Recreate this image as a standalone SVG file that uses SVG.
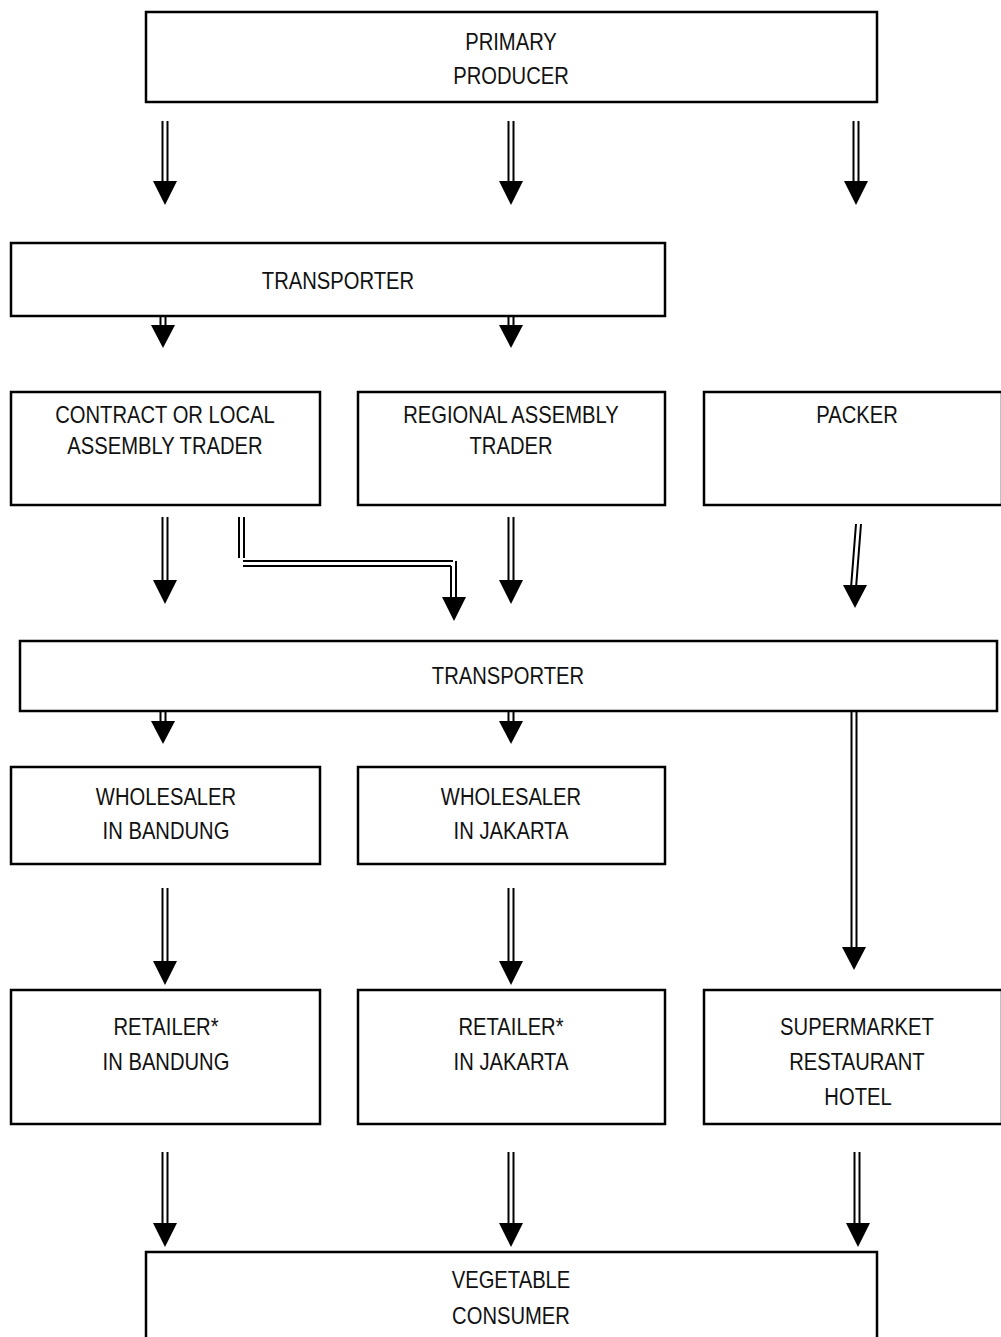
<svg xmlns="http://www.w3.org/2000/svg" width="1001" height="1337" viewBox="0 0 1001 1337">
<style>
.box{fill:#fff;stroke:#000;stroke-width:2.5}
.t{font-family:"Liberation Sans Narrow","Liberation Sans",Arial,sans-serif;font-size:23.5px;fill:#111;text-anchor:middle}
.sh{fill:none;stroke:#000;stroke-width:2}
.hd{fill:#000}
</style>
<rect width="1001" height="1337" fill="#fff"/>
<g id="connectors">
<g><path class="sh" d="M162.5 121V182M167.5 121V182"/><polygon class="hd" points="153,181 177,181 165,205"/></g>
<g><path class="sh" d="M508.5 121V182M513.5 121V182"/><polygon class="hd" points="499,181 523,181 511,205"/></g>
<g><path class="sh" d="M853.5 121V182M858.5 121V182"/><polygon class="hd" points="844,181 868,181 856,205"/></g>
<g><path class="sh" d="M160.5 311V327M165.5 311V327"/><polygon class="hd" points="151,325 175,325 163,348"/></g>
<g><path class="sh" d="M508.5 311V327M513.5 311V327"/><polygon class="hd" points="499,325 523,325 511,348"/></g>
<g><path class="sh" d="M162.5 517V582M167.5 517V582"/><polygon class="hd" points="153,580 177,580 165,604"/></g>
<g><path class="sh" d="M508.5 517V582M513.5 517V582"/><polygon class="hd" points="499,580 523,580 511,604"/></g>
<g><path class="sh" d="M239 517V558M244 517V558"/><path class="sh" d="M243 561H453M243 566H451M451 566V598M456 561V598"/><polygon class="hd" points="442,597 466,597 454,621"/></g>
<g><path class="sh" d="M856 524L851 588M861 524L856 588"/><polygon class="hd" points="843,585 867,585 855,608"/></g>
<g><path class="sh" d="M160.5 708V724M165.5 708V724"/><polygon class="hd" points="151,721 175,721 163,744"/></g>
<g><path class="sh" d="M508.5 708V724M513.5 708V724"/><polygon class="hd" points="499,721 523,721 511,744"/></g>
<g><path class="sh" d="M851.5 706V949M856.5 706V949"/><polygon class="hd" points="842,947 866,947 854,970"/></g>
<g><path class="sh" d="M162.5 888V963M167.5 888V963"/><polygon class="hd" points="153,961 177,961 165,985"/></g>
<g><path class="sh" d="M508.5 888V963M513.5 888V963"/><polygon class="hd" points="499,961 523,961 511,985"/></g>
<g><path class="sh" d="M162.5 1152V1225M167.5 1152V1225"/><polygon class="hd" points="153,1223 177,1223 165,1247"/></g>
<g><path class="sh" d="M508.5 1152V1225M513.5 1152V1225"/><polygon class="hd" points="499,1223 523,1223 511,1247"/></g>
<g><path class="sh" d="M854.5 1152V1225M859.5 1152V1225"/><polygon class="hd" points="846,1223 870,1223 858,1247"/></g>
</g>
<g id="primary-producer"><rect class="box" x="146" y="12" width="731" height="90"/><text class="t" transform="translate(511 50) scale(0.86 1)">PRIMARY</text><text class="t" transform="translate(511 84) scale(0.86 1)">PRODUCER</text></g>
<g id="transporter-1"><rect class="box" x="11" y="243" width="654" height="73"/><text class="t" transform="translate(338 289) scale(0.86 1)">TRANSPORTER</text></g>
<g id="contract-trader"><rect class="box" x="11" y="392" width="309" height="113"/><text class="t" transform="translate(165 423) scale(0.86 1)">CONTRACT OR LOCAL</text><text class="t" transform="translate(165 454) scale(0.86 1)">ASSEMBLY TRADER</text></g>
<g id="regional-trader"><rect class="box" x="358" y="392" width="307" height="113"/><text class="t" transform="translate(511 423) scale(0.86 1)">REGIONAL ASSEMBLY</text><text class="t" transform="translate(511 454) scale(0.86 1)">TRADER</text></g>
<g id="packer"><rect class="box" x="704" y="392" width="298" height="113"/><text class="t" transform="translate(857 423) scale(0.86 1)">PACKER</text></g>
<g id="transporter-2"><rect class="box" x="20" y="641" width="977" height="70"/><text class="t" transform="translate(508 684) scale(0.86 1)">TRANSPORTER</text></g>
<g id="wholesaler-bandung"><rect class="box" x="11" y="767" width="309" height="97"/><text class="t" transform="translate(166 805) scale(0.86 1)">WHOLESALER</text><text class="t" transform="translate(166 839) scale(0.86 1)">IN BANDUNG</text></g>
<g id="wholesaler-jakarta"><rect class="box" x="358" y="767" width="307" height="97"/><text class="t" transform="translate(511 805) scale(0.86 1)">WHOLESALER</text><text class="t" transform="translate(511 839) scale(0.86 1)">IN JAKARTA</text></g>
<g id="retailer-bandung"><rect class="box" x="11" y="990" width="309" height="134"/><text class="t" transform="translate(166 1035) scale(0.86 1)">RETAILER*</text><text class="t" transform="translate(166 1070) scale(0.86 1)">IN BANDUNG</text></g>
<g id="retailer-jakarta"><rect class="box" x="358" y="990" width="307" height="134"/><text class="t" transform="translate(511 1035) scale(0.86 1)">RETAILER*</text><text class="t" transform="translate(511 1070) scale(0.86 1)">IN JAKARTA</text></g>
<g id="supermarket"><rect class="box" x="704" y="990" width="298" height="134"/><text class="t" transform="translate(857 1035) scale(0.86 1)">SUPERMARKET</text><text class="t" transform="translate(857 1070) scale(0.86 1)">RESTAURANT</text><text class="t" transform="translate(858 1105) scale(0.86 1)">HOTEL</text></g>
<g id="consumer"><rect class="box" x="146" y="1252" width="731" height="100"/><text class="t" transform="translate(511 1288) scale(0.86 1)">VEGETABLE</text><text class="t" transform="translate(511 1324) scale(0.86 1)">CONSUMER</text></g>
</svg>
